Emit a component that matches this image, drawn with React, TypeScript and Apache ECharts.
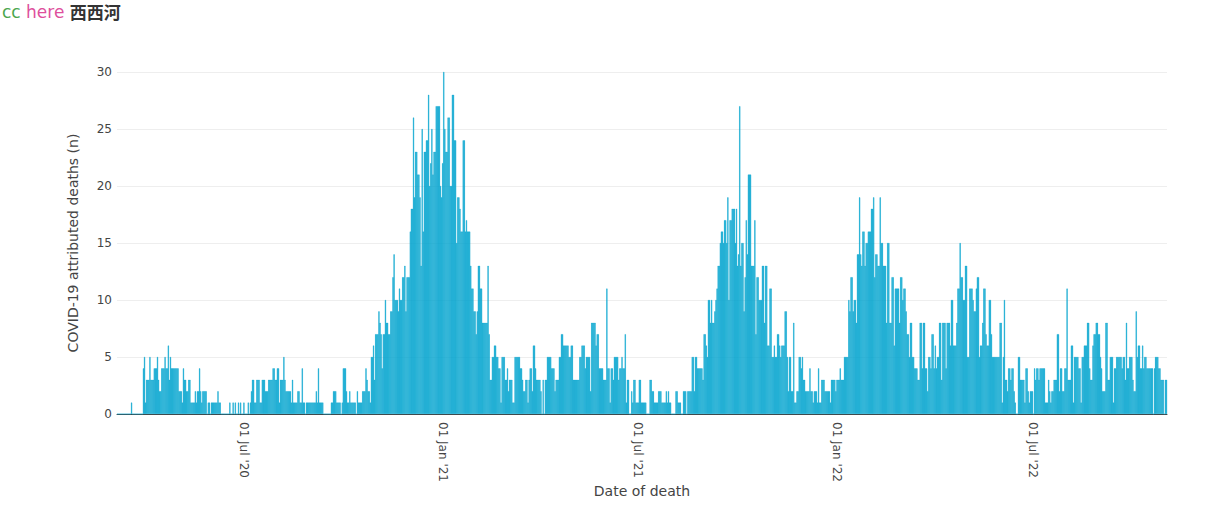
import React, { useEffect, useRef } from "react";
import * as echarts from "echarts";

// First day of the series (index 0 of the first array)
const START_DATE = "2020-03-06";

// Daily COVID-19 attributed deaths
const deaths2020a = [
  0, 0, 0, 0, 0, 0, 0, 0, 0, 0,
  0, 0, 0, 1, 0, 0, 0, 0, 0, 0,
  0, 0, 0, 0, 4, 5, 1, 3, 3, 3,
  5, 3, 3, 3, 4, 4, 4, 5, 3, 2,
  2, 4, 4, 4, 5, 4, 4, 6, 3, 5,
  4, 4, 4, 4, 4, 4, 4, 2, 2, 2,
  1, 4, 3, 3, 2, 2, 3, 3, 1, 1,
  1, 1, 2, 1, 2, 2, 4, 2, 1, 2,
  2, 2, 2, 0, 1, 1, 0, 1, 1, 1,
  1, 1, 1, 2, 1, 1, 0, 0, 0, 0,
  0, 0, 0, 0, 1, 0, 0, 1, 0, 1,
  0, 0, 1, 0, 1, 0, 0,
];

const deaths2020b = [
  1, 0, 0,
  0, 1, 0, 1, 2, 3, 3, 1, 1, 3,
  3, 3, 1, 1, 3, 3, 3, 2, 2, 2,
  3, 3, 3, 3, 4, 4, 3, 3, 4, 4,
  1, 3, 3, 3, 5, 3, 2, 2, 2, 2,
  2, 1, 3, 1, 1, 1, 1, 2, 2, 1,
  1, 4, 1, 1, 0, 1, 1, 1, 1, 1,
  1, 1, 1, 1, 2, 1, 4, 1, 1, 1,
  1, 0, 0, 0, 0, 0, 0, 0, 1, 1,
  2, 2, 2, 1, 1, 1, 1, 0, 1, 4,
  4, 4, 2, 1, 1, 2, 1, 1, 1, 1,
  1, 0, 2, 1, 1, 1, 1, 2, 2, 2,
  4, 3, 2, 2, 1, 5, 5, 6, 3, 7,
  7, 7, 9, 8, 7, 4, 7, 7, 10, 8,
  8, 7, 7, 9, 9, 12, 14, 10, 10, 10,
  9, 11, 10, 10, 12, 12, 13, 9, 12, 12,
  12, 16, 18, 18, 26, 19, 23, 23, 21, 21,
  19, 13, 25, 16, 23, 23, 24, 24, 28, 20,
  22, 25, 21, 23, 23, 27, 27, 27, 27, 20,
  19,
];

const deaths2021a = [
  22, 30, 25, 23, 23, 26, 26, 20, 20,
  28, 28, 24, 24, 15, 19, 19, 18, 16, 16,
  24, 24, 16, 17, 16, 16, 16, 13, 11, 11,
  9, 9, 7, 9, 13, 13, 11, 11, 8, 8,
  8, 8, 8, 13, 7, 3, 3, 5, 5, 6,
  6, 5, 5, 4, 4, 1, 5, 5, 5, 3,
  3, 4, 2, 3, 3, 3, 1, 1, 5, 5,
  5, 5, 5, 4, 4, 3, 2, 2, 3, 3,
  1, 3, 4, 4, 2, 6, 6, 4, 3, 3,
  3, 3, 2, 0, 3, 0, 3, 3, 5, 5,
  5, 5, 4, 4, 4, 2, 3, 3, 3, 5,
  5, 7, 7, 6, 6, 6, 6, 6, 5, 5,
  6, 6, 3, 3, 3, 3, 3, 3, 5, 5,
  6, 6, 6, 4, 5, 5, 5, 5, 2, 8,
  8, 8, 8, 6, 7, 7, 4, 4, 4, 4,
  3, 3, 3, 11, 4, 4, 1, 4, 4, 3,
  5, 5, 5, 5, 3, 4, 4, 5, 4, 4,
  7, 1, 3, 3, 0, 0, 2, 1, 3, 3,
  1, 1,
];

const deaths2021b = [
  1, 3, 3, 1, 1, 1, 1, 1,
  0, 0, 0, 3, 3, 2, 2, 1, 1, 1,
  1, 2, 2, 2, 1, 1, 1, 1, 2, 1,
  2, 1, 1, 0, 0, 0, 0, 2, 2, 1,
  1, 1, 0, 0, 2, 2, 2, 0, 2, 2,
  2, 2, 5, 5, 2, 5, 5, 4, 4, 4,
  4, 4, 3, 7, 7, 6, 5, 10, 10, 8,
  10, 8, 8, 9, 10, 11, 13, 13, 15, 16,
  16, 15, 17, 17, 15, 19, 10, 17, 17, 18,
  18, 18, 15, 18, 13, 14, 27, 13, 15, 15,
  9, 12, 17, 14, 21, 21, 21, 13, 13, 13,
  17, 7, 12, 12, 10, 10, 10, 13, 13, 8,
  13, 13, 6, 6, 11, 11, 5, 5, 6, 5,
  5, 7, 7, 6, 5, 6, 6, 6, 9, 9,
  5, 2, 5, 5, 2, 2, 8, 1, 1, 2,
  2, 5, 5, 4, 5, 3, 3, 2, 2, 2,
  2, 4, 2, 2, 1, 2, 2, 2, 1, 4,
  1, 1, 3, 3, 3, 2, 2, 2, 2, 2,
  1, 3, 3, 3, 3, 2,
];

const deaths2022a = [
  3, 3, 3, 4,
  3, 3, 3, 5, 5, 5, 5, 10, 9, 12,
  12, 9, 10, 10, 8, 14, 14, 19, 14, 13,
  16, 16, 13, 15, 15, 16, 16, 16, 18, 18,
  19, 12, 14, 14, 13, 13, 19, 15, 15, 13,
  13, 13, 8, 15, 15, 8, 8, 12, 12, 6,
  11, 11, 11, 11, 8, 12, 12, 10, 11, 11,
  9, 7, 7, 5, 8, 8, 5, 5, 4, 4,
  4, 3, 3, 8, 8, 4, 8, 8, 4, 4,
  2, 5, 5, 4, 7, 7, 4, 6, 4, 5,
  5, 8, 8, 3, 8, 8, 8, 4, 8, 8,
  8, 6, 10, 10, 6, 6, 6, 8, 11, 11,
  15, 12, 12, 10, 10, 13, 13, 5, 5, 11,
  11, 11, 10, 9, 9, 11, 12, 12, 5, 6,
  6, 8, 11, 11, 7, 6, 6, 10, 10, 7,
  5, 5, 5, 5, 5, 5, 5, 8, 8, 1,
  5, 10, 3, 3, 2, 4, 4, 3, 4, 4,
  2, 1, 0, 0, 5, 5, 3, 3, 3, 3,
  1, 4, 4, 2, 1, 2, 2,
];

const deaths2022b = [
  2, 0, 4,
  3, 4, 4, 3, 4, 4, 4, 4, 4, 1,
  1, 1, 3, 2, 1, 2, 2, 3, 3, 3,
  7, 7, 2, 4, 4, 2, 2, 4, 4, 11,
  3, 3, 3, 6, 6, 1, 5, 5, 5, 5,
  4, 4, 1, 5, 5, 6, 6, 6, 8, 8,
  4, 3, 3, 6, 7, 7, 8, 8, 7, 7,
  5, 4, 2, 2, 2, 8, 8, 3, 3, 5,
  5, 5, 1, 4, 4, 5, 5, 5, 5, 5,
  4, 5, 5, 3, 8, 4, 4, 5, 5, 5,
  3, 2, 2, 9, 5, 6, 6, 4, 4, 6,
  4, 5, 5, 4, 4, 4, 4, 4, 4, 0,
  4, 5, 5, 5, 4, 4, 3, 3, 3, 0,
  3, 3,
];

const yTicks = [0, 5, 10, 15, 20, 25, 30];
const MONTHS = ["Jan", "Feb", "Mar", "Apr", "May", "Jun", "Jul", "Aug", "Sep", "Oct", "Nov", "Dec"];

const values = [
  ...deaths2020a,
  ...deaths2020b,
  ...deaths2021a,
  ...deaths2021b,
  ...deaths2022a,
  ...deaths2022b,
];

function buildDates(start: string, n: number): string[] {
  const [y, m, d] = start.split("-").map(Number);
  const t0 = Date.UTC(y, m - 1, d);
  const out: string[] = [];
  for (let i = 0; i < n; i++) {
    out.push(new Date(t0 + i * 86400000).toISOString().slice(0, 10));
  }
  return out;
}

const dates = buildDates(START_DATE, values.length);

function isLabelDate(v: string) {
  const md = v.slice(5);
  return md === "07-01" || md === "01-01";
}

function fmt(v: string) {
  const y = v.slice(2, 4);
  const m = Number(v.slice(5, 7));
  const d = v.slice(8, 10);
  return `${d} ${MONTHS[m - 1]} '${y}`;
}

export default function App() {
  const ref = useRef<HTMLDivElement>(null);
  useEffect(() => {
    if (!ref.current) return;
    const chart = echarts.init(ref.current, undefined, { renderer: "svg" });
    const font = "'DejaVu Sans', Verdana, sans-serif";
    chart.setOption({
      animation: false,
      backgroundColor: "#ffffff",
      title: {
        left: 2,
        top: 3,
        padding: 0,
        text: "{a|cc }{b|here }{c|西西河}",
        textStyle: {
          fontWeight: "normal",
          rich: {
            a: { color: "#4aa64e", fontSize: 17, fontWeight: "normal", fontFamily: font },
            b: { color: "#de4f9c", fontSize: 17, fontWeight: "normal", fontFamily: font },
            c: { color: "#333333", fontSize: 17, fontWeight: "bold", fontFamily: "'Noto Sans CJK SC', sans-serif" },
          },
        },
      },
      grid: { left: 117, right: 40, top: 72, bottom: 113, containLabel: false },
      xAxis: {
        type: "category",
        data: dates,
        boundaryGap: true,
        name: "Date of death",
        nameLocation: "middle",
        nameGap: 70,
        nameMoveOverlap: false,
        nameTextStyle: { color: "#444", fontSize: 14, fontFamily: font },
        axisLine: { show: true, lineStyle: { color: "#444", width: 1 } },
        axisTick: { show: false },
        axisLabel: {
          interval: (_i: number, v: string) => isLabelDate(v),
          formatter: (v: string) => fmt(v),
          rotate: -90,
          margin: 8,
          color: "#444",
          fontSize: 12,
          fontFamily: font,
        },
        splitLine: { show: false },
      },
      yAxis: {
        type: "value",
        min: 0,
        max: 30,
        interval: 5,
        name: "COVID-19 attributed deaths (n)",
        nameLocation: "middle",
        nameGap: 37,
        nameMoveOverlap: false,
        nameTextStyle: { color: "#444", fontSize: 14, fontFamily: font },
        axisLine: { show: false },
        axisTick: { show: false },
        axisLabel: {
          color: "#444",
          fontSize: 12,
          fontFamily: font,
          margin: 5,
          formatter: (v: number) => (yTicks.includes(v) ? String(v) : ""),
        },
        splitLine: { show: true, lineStyle: { color: "#eeeeee", width: 1 } },
      },
      series: [
        {
          type: "bar",
          data: values,
          barCategoryGap: "0%",
          itemStyle: { color: "#00a4ce", borderColor: "#00a4ce", borderWidth: 0.4 },
          z: 2,
        },
      ],
    });
    return () => chart.dispose();
  }, []);
  return (
    <div
      ref={ref}
      style={{ position: "absolute", left: 0, top: 0, width: 1207, height: 527 }}
    />
  );
}
